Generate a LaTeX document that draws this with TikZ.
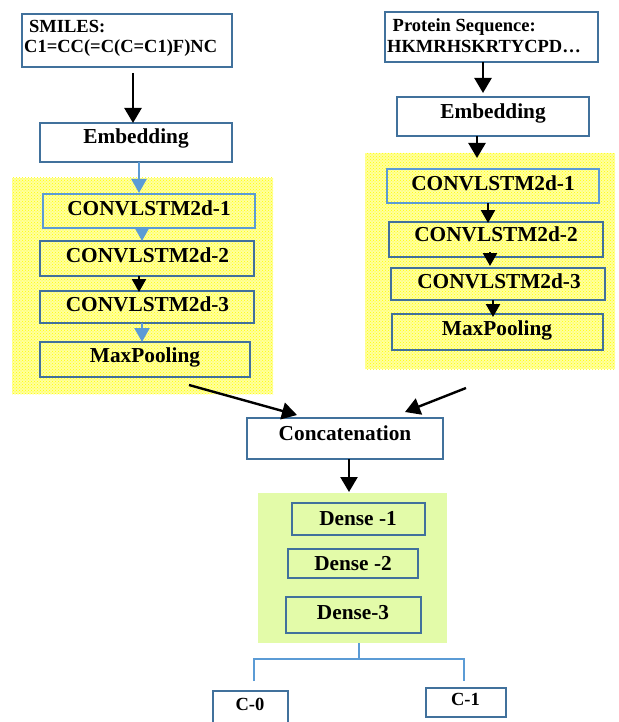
\documentclass[tikz,border=0pt]{standalone}
\usepackage{fontspec}
\setmainfont{Liberation Serif}
\usetikzlibrary{arrows.meta,patterns,calc}
\definecolor{dkb}{HTML}{41719C}
\definecolor{ltb}{HTML}{5B9BD5}
\definecolor{grn}{HTML}{E3FBA9}
\definecolor{ylw}{HTML}{FFFF9E}
\tikzset{
  box/.style={draw=dkb, line width=2.8pt, inner sep=0pt, outer sep=0pt},
  lbox/.style={box, draw=ltb},
  txt/.style={anchor=base, inner sep=0pt, font=\bfseries\fontsize{21.3}{25}\selectfont},
  stxt/.style={anchor=base west, inner sep=0pt, font=\bfseries\fontsize{18.5}{22}\selectfont},
  ctxt/.style={anchor=base, inner sep=0pt, font=\bfseries\fontsize{18.5}{22}\selectfont},
  yregion/.style={inner sep=0pt, outer sep=0pt, draw=none, preaction={fill=ylw}, pattern=crosshatch dots, pattern color=yellow},
  gregion/.style={inner sep=0pt, outer sep=0pt, draw=none, fill=grn},
  arr/.style={-{Triangle[width=17pt,length=15pt]}, line width=2.4pt, draw=black},
  sarr/.style={-{Triangle[width=14pt,length=13pt]}, line width=2.4pt, draw=black},
  barr/.style={sarr, draw=ltb, -{Triangle[width=15pt,length=14pt]}},
  brk/.style={draw=ltb, line width=1.3pt}
}
\begin{document}
\begin{tikzpicture}[x=1pt,y=-1pt]
\useasboundingbox (0,0) rectangle (618,722);
% background regions
\node[yregion, minimum width=261pt, minimum height=216pt] (yl) at (142.5,286) {};
\node[yregion, minimum width=250pt, minimum height=216pt] (yr) at (490,261) {};
\node[gregion, minimum width=189pt, minimum height=150pt] (dgroup) at (352.5,568) {};

% left branch
\node[box, minimum width=210pt, minimum height=53pt] (smiles) at (127,40.5) {};
\node[stxt] (smilesA) at (29,33) {SMILES:};
\node[stxt] (smilesB) at (24,53) {C1=CC(=C(C=C1)F)NC};
\node[box, minimum width=192pt, minimum height=39pt] (embL) at (136,142.5) {};
\node[txt] (embLt) at (136,144) {Embedding};
\node[lbox, minimum width=212pt, minimum height=34pt] (c1L) at (149,211) {};
\node[txt] (c1Lt) at (149,215) {CONVLSTM2d-1};
\node[box, minimum width=214pt, minimum height=35pt] (c2L) at (147,258.5) {};
\node[txt] (c2Lt) at (147.5,262.7) {CONVLSTM2d-2};
\node[box, minimum width=214pt, minimum height=32pt] (c3L) at (147,307) {};
\node[txt] (c3Lt) at (147.5,311.7) {CONVLSTM2d-3};
\node[box, minimum width=210pt, minimum height=35pt] (mpL) at (145,359.5) {};
\node[txt] (mpLt) at (145,362.7) {MaxPooling};

% right branch
\node[box, minimum width=213pt, minimum height=50pt] (prot) at (491.5,37) {};
\node[stxt] (protA) at (392.5,32) {Protein Sequence:};
\node[stxt] (protB) at (387,53) {HKMRHSKRTYCPD…};
\node[box, minimum width=192pt, minimum height=39pt] (embR) at (493,116.5) {};
\node[txt] (embRt) at (493,118.3) {Embedding};
\node[lbox, minimum width=212pt, minimum height=34pt] (c1R) at (493,186) {};
\node[txt] (c1Rt) at (493,190) {CONVLSTM2d-1};
\node[box, minimum width=214pt, minimum height=35pt] (c2R) at (496,239.5) {};
\node[txt] (c2Rt) at (496,241.7) {CONVLSTM2d-2};
\node[box, minimum width=214pt, minimum height=32pt] (c3R) at (498,284) {};
\node[txt] (c3Rt) at (499,288.3) {CONVLSTM2d-3};
\node[box, minimum width=211pt, minimum height=36pt] (mpR) at (497.5,332) {};
\node[txt] (mpRt) at (497,335) {MaxPooling};

% merge
\node[box, minimum width=196pt, minimum height=41pt] (concat) at (345,438.5) {};
\node[txt] (concatt) at (345,440) {Concatenation};
\node[box, minimum width=133pt, minimum height=32pt] (d1) at (358.5,519) {};
\node[txt] (d1t) at (358,525) {Dense -1};
\node[box, minimum width=130pt, minimum height=29pt] (d2) at (353,563.5) {};
\node[txt] (d2t) at (353,570.7) {Dense -2};
\node[box, minimum width=135pt, minimum height=36pt] (d3) at (353.5,615) {};
\node[txt] (d3t) at (353,619) {Dense-3};

% outputs
\node[box, minimum width=75pt, minimum height=39pt] (c0) at (250.5,710.5) {};
\node[ctxt] (c0t) at (250,710) {C-0};
\node[box, minimum width=80pt, minimum height=29pt] (c1) at (466,702.5) {};
\node[ctxt] (c1t) at (465.5,705) {C-1};

% connectors left
\draw[arr] ([xshift=6pt,yshift=-6pt]smiles.south) -- ([xshift=-3pt]embL.north);
\draw[barr] ([xshift=3pt]embL.south) -- ([xshift=-10pt,yshift=1pt]c1L.north);
\draw[barr] ([xshift=-7pt]c1L.south) -- ([xshift=-5pt]c2L.north);
\draw[sarr] ([xshift=-8pt]c2L.south) -- ([xshift=-8pt,yshift=-1pt]c3L.north);
\draw[barr] ([xshift=-5pt]c3L.south) -- ([xshift=-3pt]mpL.north);

% connectors right
\draw[arr] ([xshift=-8.5pt]prot.south) -- ([xshift=-10pt,yshift=4pt]embR.north);
\draw[arr] ([xshift=-16pt]embR.south) -- ([xshift=-16pt,yshift=11pt]c1R.north);
\draw[sarr] ([xshift=-5pt]c1R.south) -- ([xshift=-8pt,yshift=-1pt]c2R.north);
\draw[sarr] ([xshift=-6pt,yshift=5pt]c2R.south) -- ([xshift=-8pt,yshift=2pt]c3R.north);
\draw[sarr] ([xshift=-5pt]c3R.south) -- ([xshift=-4.5pt,yshift=-3pt]mpR.north);

% merge connectors
\coordinate (tailL) at (189,385);
\coordinate (tailR) at (466,388);
\draw[arr] (tailL) -- ([xshift=-48pt,yshift=3pt]concat.north);
\draw[arr] (tailR) -- ([xshift=60pt,yshift=6pt]concat.north);
\draw[arr] ([xshift=4pt]concat.south) -- ([xshift=-3.5pt,yshift=1pt]dgroup.north);

% output bracket
\coordinate (bm) at (359,659);
\coordinate (bl) at (254,681);
\coordinate (br) at (464,681);
\draw[brk] (dgroup.south -| bm) -- (bm);
\draw[brk] (bl) |- (bm) -| (br);
\end{tikzpicture}
\end{document}
